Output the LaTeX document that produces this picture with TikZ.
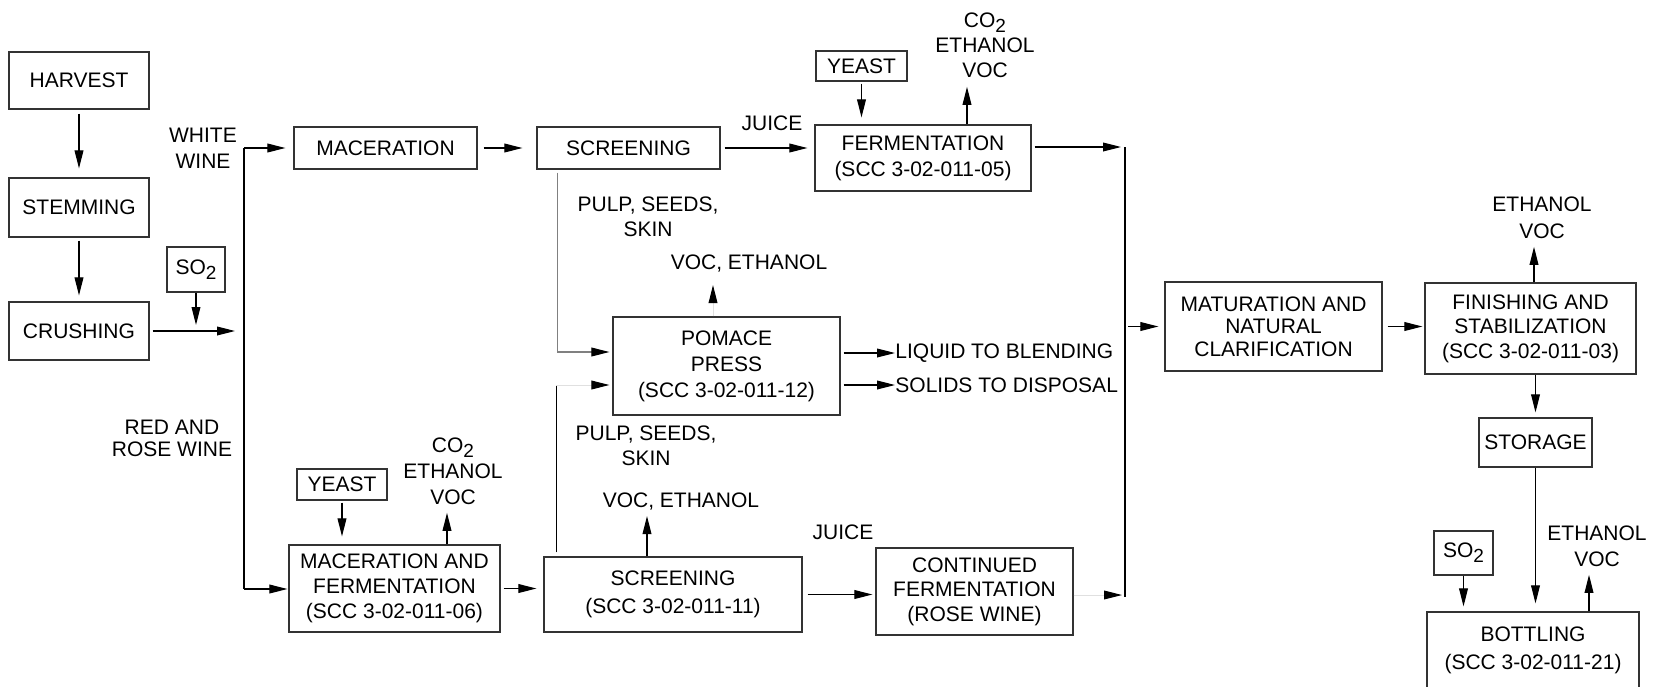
\documentclass[tikz,border=0pt]{standalone}
\usepackage{fontspec}
\setmainfont{Liberation Sans}
\usetikzlibrary{arrows.meta,calc}
\newcommand\sbtwo{\raisebox{-0.45ex}{\fontsize{9.5}{9.5}\selectfont 2}}
\newcommand\mainsz{\fontsize{10.5}{12.5}\selectfont}
\begin{document}
\begin{tikzpicture}[x=0.5pt,y=-0.5pt,
  box/.style={draw=black!80, line width=0.6pt, align=center, inner sep=0pt, font=\mainsz},
  lbl/.style={align=center, inner sep=0pt, font=\mainsz},
  arr/.style={draw=black, line width=0.55pt, -{Triangle[length=9pt,width=4.4pt]}, shorten <=1.5pt, shorten >=3pt},
  ln/.style={draw=black, line width=0.55pt},
  faint/.style={draw=black!12, line width=0.5pt, -{Triangle[length=9pt,width=4.4pt,black]}},
  grayln/.style={draw=black!50, line width=0.55pt, -{Triangle[length=9pt,width=4.4pt,black]}}]
\useasboundingbox (0,0) rectangle (1658,686);
\clip (0,0) rectangle (1658,686);
\fill[white] (0,0) rectangle (1658,686);

% boxes
\node[box, minimum width=70pt, minimum height=28.5pt] (harvest) at (79,80.5) {HARVEST};
\node[box, minimum width=70pt, minimum height=29.5pt] (stemming) at (79,207.5) {STEMMING};
\node[box, minimum width=70pt, minimum height=29pt] (crushing) at (79,331) {CRUSHING};
\node[box, minimum width=29pt, minimum height=22.5pt] (so2a) at (196,269.5) {SO\sbtwo};
\node[box, minimum width=91.5pt, minimum height=21pt] (macer) at (385.5,148) {MACERATION};
\node[box, minimum width=91.5pt, minimum height=21pt] (screen1) at (628.5,148) {SCREENING};
\node[box, minimum width=108pt, minimum height=33pt, font=\fontsize{10.5}{13}\selectfont] (ferm) at (923,158) {FERMENTATION\\(SCC 3-02-011-05)};
\node[box, minimum width=45.5pt, minimum height=15pt] (yeast1) at (861.5,66) {YEAST};
\node[box, minimum width=113.5pt, minimum height=49pt, font=\fontsize{10.5}{13}\selectfont] (pomace) at (726.5,366) {POMACE\\PRESS\\(SCC 3-02-011-12)};
\node[box, minimum width=108.5pt, minimum height=44.5pt, font=\fontsize{10.5}{11.3}\selectfont] (matur) at (1273.5,326.5) {MATURATION AND\\NATURAL\\CLARIFICATION};
\node[box, minimum width=105.5pt, minimum height=45.5pt, font=\fontsize{10.5}{12.3}\selectfont] (finish) at (1530.5,328.5) {FINISHING AND\\STABILIZATION\\(SCC 3-02-011-03)};
\node[box, minimum width=56.5pt, minimum height=24.5pt] (storage) at (1535.5,442.5) {STORAGE};
\node[box, minimum width=106pt, minimum height=38pt, font=\fontsize{10.5}{14}\selectfont] (bottling) at (1533,650) {BOTTLING\\(SCC 3-02-011-21)};
\node[box, minimum width=29.5pt, minimum height=22pt] (so2b) at (1463.5,553) {SO\sbtwo};
\node[box, minimum width=45pt, minimum height=15.5pt] (yeast2) at (342,484.5) {YEAST};
\node[box, minimum width=105.5pt, minimum height=43.5pt, font=\fontsize{10.5}{12.5}\selectfont] (macferm) at (394.5,588.5) {MACERATION AND\\FERMENTATION\\(SCC 3-02-011-06)};
\node[box, minimum width=129pt, minimum height=37.5pt, font=\fontsize{10.5}{14}\selectfont] (screen2) at (673,594.5) {SCREENING\\(SCC 3-02-011-11)};
\node[box, minimum width=98.5pt, minimum height=43.5pt, font=\fontsize{10.5}{12.3}\selectfont] (contin) at (974.5,591.5) {CONTINUED\\FERMENTATION\\(ROSE WINE)};

% labels
\node[lbl, font=\fontsize{10.5}{13}\selectfont] (white) at (203,148) {WHITE\\WINE};
\node[lbl, font=\fontsize{10.5}{10.8}\selectfont] (redrose) at (172,438.5) {RED AND\\ROSE WINE};
\node[lbl] (juice1) at (772,123) {JUICE};
\node[lbl, font=\fontsize{10.5}{12.5}\selectfont] (emis1) at (985,45) {CO\sbtwo\\ETHANOL\\VOC};
\node[lbl] (pulp1) at (648,216.5) {PULP, SEEDS,\\SKIN};
\node[lbl] (voc1) at (749,264) {VOC, ETHANOL};
\node[lbl, anchor=west] (liquid) at (895,353) {LIQUID TO BLENDING};
\node[lbl, anchor=west] (solids) at (895,385) {SOLIDS TO DISPOSAL};
\node[lbl, font=\fontsize{10.5}{13.5}\selectfont] (emis3) at (1542,217.5) {ETHANOL\\VOC};
\node[lbl] (pulp2) at (646,446) {PULP, SEEDS,\\SKIN};
\node[lbl] (voc2) at (681,502) {VOC, ETHANOL};
\node[lbl] (juice2) at (843,532) {JUICE};
\node[lbl, font=\fontsize{10.5}{13}\selectfont] (emis2) at (453,471) {CO\sbtwo\\ETHANOL\\VOC};
\node[lbl, font=\fontsize{10.5}{13}\selectfont] (emis4) at (1597,546) {ETHANOL\\VOC};

% junctions
\coordinate (j1) at (244,148);
\coordinate (j2) at (244,589);
\coordinate (v1) at (1125,147);
\coordinate (v2) at (1125,597);

% connectors left column
\draw[arr, shorten <=2pt, shorten >=4.5pt] (harvest) -- (stemming);
\draw[arr, shorten >=3pt] (stemming) -- (crushing);
\draw[arr, shorten >=4.5pt] (crushing.east) -- (crushing.east -| j1);
\draw[arr, shorten <=0pt, shorten >=3pt] (so2a.south) -- (so2a.south |- crushing.east);
\draw[ln] (j1) -- (j2);
\draw[arr, shorten <=0pt, shorten >=4pt] (j1) -- (macer.west);
\draw[arr, shorten <=0pt, shorten >=0.5pt] (j2) -- (j2 -| macferm.west);

% white wine line
\draw[arr, shorten <=3pt, shorten >=7pt] (macer.east) -- (screen1.west);
\draw[arr, shorten <=2pt, shorten >=3.5pt] (screen1.east) -- (screen1.east -| ferm.west);
\draw[arr, shorten <=1pt, shorten >=3.5pt] (yeast1.south) -- (yeast1.south |- ferm.north);
\draw[arr, shorten <=0pt, shorten >=4.5pt] ($(ferm.north)+(44,0)$) coordinate (e1) -- (e1 |- emis1.south);
\draw[arr, shorten <=1.5pt, shorten >=2pt] (ferm.east |- v1) -- (v1);
\draw[ln] (v1) -- (v2);

% pomace press
\draw[grayln, shorten >=1.5pt] ($(screen1.south west)+(21,3)$) |- ($(pomace.west)+(0,-14)$);
\coordinate (p2b) at ($(pomace.west)+(0,19)$);
\draw[ln] ($(screen2.north west)+(13,-4)$) coordinate (p2a) -- (p2a |- p2b) coordinate (p2c);
\draw[faint, shorten >=1.5pt] (p2c) -- (p2b);
\draw[faint, shorten >=6pt] ($(pomace.north)+(-13.5,0)$) coordinate (e5) -- (e5 |- voc1.south);
\draw[arr, shorten <=1.5pt, shorten >=0pt] ($(pomace.east)+(0,-13)$) -- (liquid.west);
\draw[arr, shorten <=1.5pt, shorten >=0pt] ($(pomace.east)+(0,19)$) -- (solids.west);

% red and rose wine line
\draw[arr, shorten <=1.5pt, shorten >=3.5pt] (macferm.east) -- (macferm.east -| screen2.west);
\draw[arr, shorten <=1pt, shorten >=4pt] (yeast2.south) -- (yeast2.south |- macferm.north);
\draw[arr, shorten <=0pt, shorten >=4pt] ($(macferm.north)+(52.5,0)$) coordinate (e6) -- (e6 |- emis2.south);
\draw[arr, shorten <=0pt, shorten >=2.5pt] ($(screen2.north)+(-26,0)$) coordinate (e7) -- (e7 |- voc2.south);
\draw[arr, shorten <=2.5pt, shorten >=1.5pt] (screen2.east) -- (screen2.east -| contin.west);
\draw[faint, shorten >=1.5pt] ($(contin.east)+(0,3.5)$) coordinate (c2) -- (c2 -| v2);

% right part
\draw[arr, shorten <=1.5pt, shorten >=3pt] (matur.west -| v1) -- (matur.west);
\draw[arr, shorten <=2.5pt, shorten >=1pt] (matur.east) -- (matur.east -| finish.west);
\draw[arr, shorten <=0pt, shorten >=4pt] ($(finish.north)+(3.5,0)$) coordinate (e3) -- (e3 |- emis3.south);
\draw[arr, shorten <=0pt, shorten >=2.5pt] (storage.north |- finish.south) -- (storage.north);
\draw[arr, shorten <=0pt, shorten >=4pt] (storage.south) -- (storage.south |- bottling.north);
\draw[arr, shorten <=0pt, shorten >=2.5pt] (so2b.south) -- (so2b.south |- bottling.north);
\draw[arr, shorten <=0pt, shorten >=4pt] ($(bottling.north)+(56,0)$) coordinate (e4) -- (e4 |- emis4.south);
\end{tikzpicture}
\end{document}
